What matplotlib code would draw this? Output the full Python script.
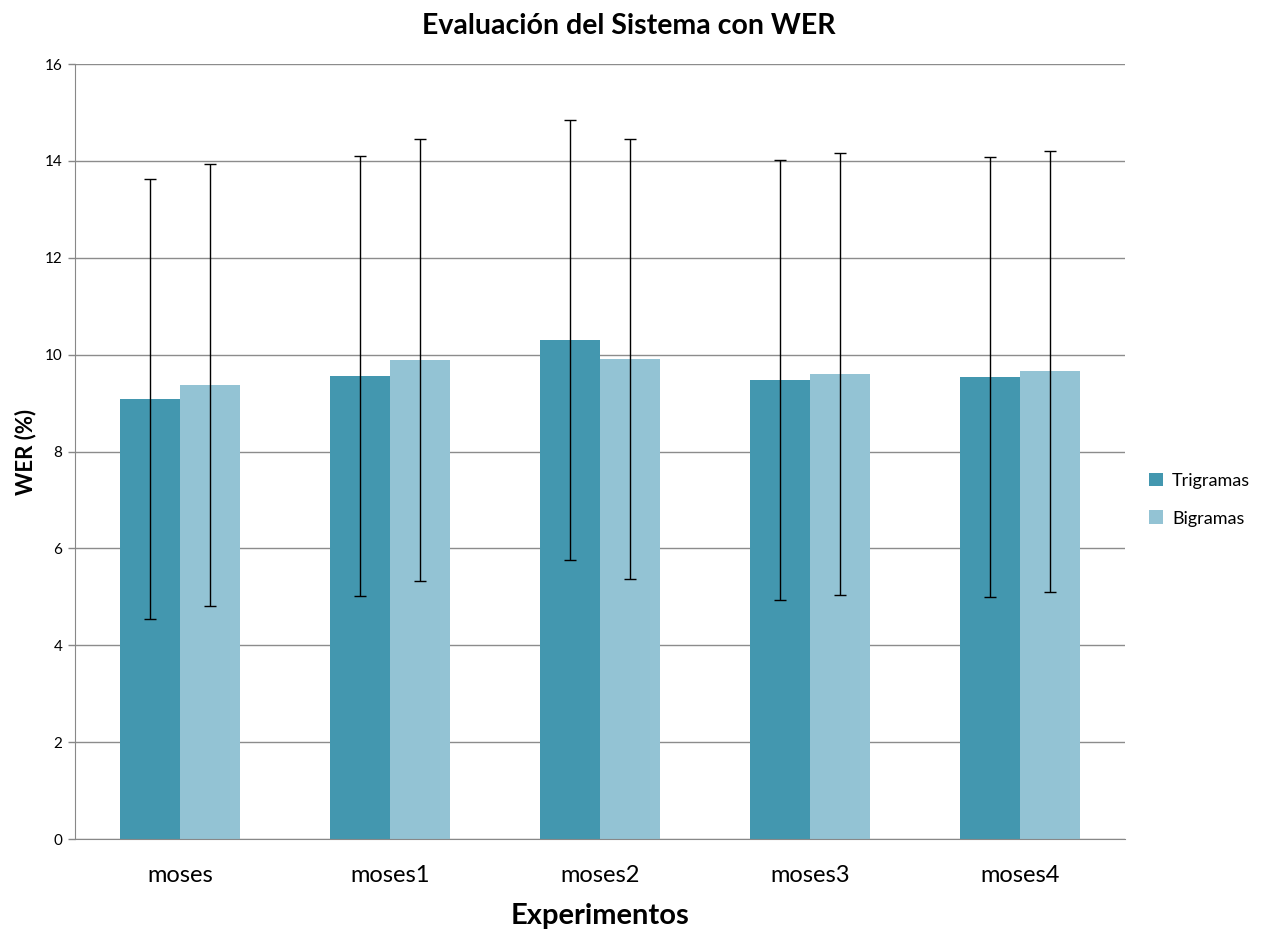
import numpy as np
import matplotlib
matplotlib.use('Agg')
import matplotlib.pyplot as plt

plt.rcParams['font.family'] = ['Lato', 'DejaVu Sans']

# data
experiments = ['moses', 'moses1', 'moses2', 'moses3', 'moses4']
trigramas = [9.08, 9.56, 10.30, 9.48, 9.54]
bigramas = [9.37, 9.89, 9.91, 9.60, 9.66]
err_tri = [4.54, 4.54, 4.54, 4.54, 4.54]
err_bi = [4.56, 4.56, 4.55, 4.56, 4.55]

C_TRI = '#4397AF'
C_BI = '#93C3D4'

fig = plt.figure(figsize=[12.64, 9.33], dpi=100)
ax = fig.add_axes([0.0593, 0.1007, 0.8307, 0.8307])

x = np.arange(len(experiments))
w = 60.0 / 210.0
ekw = dict(ecolor='black', elinewidth=1.0, capsize=4, capthick=1.0)
ax.bar(x - w/2, trigramas, w, color=C_TRI, label='Trigramas', yerr=err_tri, error_kw=ekw, zorder=2)
ax.bar(x + w/2, bigramas, w, color=C_BI, label='Bigramas', yerr=err_bi, error_kw=ekw, zorder=2)

ax.set_xlim(-0.5, len(experiments) - 0.5)
ax.set_ylim(0, 16)
ax.set_yticks(np.arange(0, 17, 2))
ax.set_xticks(x)
ax.set_xticklabels(experiments, fontsize=17)
ax.tick_params(axis='x', length=0, pad=19)
ax.tick_params(axis='y', length=5, width=1, color='#888888', labelsize=11, pad=4, direction='out')
ax.yaxis.grid(True, color='#8c8c8c', linewidth=1.0, zorder=0)
ax.set_axisbelow(True)
for s in ['top', 'right']:
    ax.spines[s].set_visible(False)
ax.spines['left'].set_color('#888888')
ax.spines['bottom'].set_color('#888888')

ax.set_ylabel('WER (%)', fontsize=16, fontweight='bold', labelpad=6)
ax.set_xlabel('Experimentos', fontsize=21, fontweight='bold', labelpad=12)
fig.text(0.4975, 0.972, 'Evaluación del Sistema con WER', ha='center', va='center',
         fontsize=20.5, fontweight='bold')

ax.legend(loc='center left', bbox_to_anchor=(1.007, 0.438), frameon=False, fontsize=13,
          handlelength=0.8, handleheight=0.8, labelspacing=1.2, handletextpad=0.5)

plt.savefig('out.png', dpi=100)
